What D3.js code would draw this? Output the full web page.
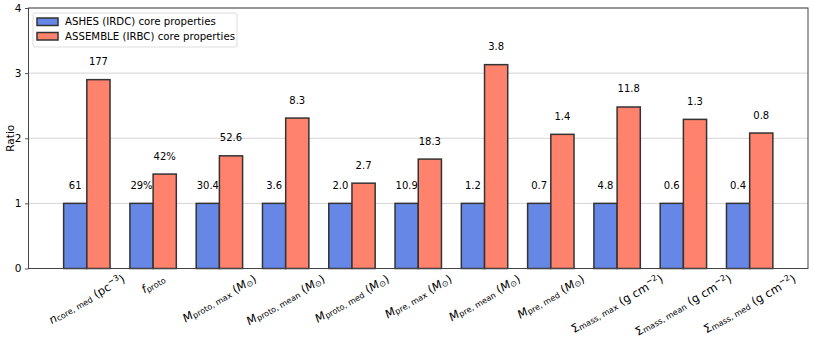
<!DOCTYPE html>
<html><head><meta charset="utf-8">
<script src="https://cdn.jsdelivr.net/npm/d3@7"></script>
<style>body{margin:0;background:#fff;} text{font-family:"DejaVu Sans",sans-serif;fill:#000;}</style>
</head><body>
<svg id="c" width="814" height="337"></svg>
<script>
// Data
const categories = ["n_core,med","f_proto","M_proto,max","M_proto,mean","M_proto,med","M_pre,max","M_pre,mean","M_pre,med","Sigma_mass,max","Sigma_mass,mean","Sigma_mass,med"];
const ashesRatio = [1,1,1,1,1,1,1,1,1,1,1];
const assembleRatio = [2.90,1.45,1.73,2.31,1.31,1.68,3.13,2.06,2.48,2.29,2.08];
const ashesLabels = ["61","29%","30.4","3.6","2.0","10.9","1.2","0.7","4.8","0.6","0.4"];
const assembleLabels = ["177","42%","52.6","8.3","2.7","18.3","3.8","1.4","11.8","1.3","0.8"];
const yTicks = [0,1,2,3,4];
const seriesNames = ["ASHES (IRDC) core properties","ASSEMBLE (IRBC) core properties"];
const tickLabelParts = [
  {m:"n",it:true,sub:"core, med",unit:[["(pc",""],["−3","sup"],[")",""]]},
  {m:"f",it:true,sub:"proto",unit:[]},
  {m:"M",it:true,sub:"proto, max",unit:[["(",""],["M","it"],["⊙","sub"],[")",""]]},
  {m:"M",it:true,sub:"proto, mean",unit:[["(",""],["M","it"],["⊙","sub"],[")",""]]},
  {m:"M",it:true,sub:"proto, med",unit:[["(",""],["M","it"],["⊙","sub"],[")",""]]},
  {m:"M",it:true,sub:"pre, max",unit:[["(",""],["M","it"],["⊙","sub"],[")",""]]},
  {m:"M",it:true,sub:"pre, mean",unit:[["(",""],["M","it"],["⊙","sub"],[")",""]]},
  {m:"M",it:true,sub:"pre, med",unit:[["(",""],["M","it"],["⊙","sub"],[")",""]]},
  {m:"Σ",it:false,sub:"mass, max",unit:[["(g cm",""],["−2","sup"],[")",""]]},
  {m:"Σ",it:false,sub:"mass, mean",unit:[["(g cm",""],["−2","sup"],[")",""]]},
  {m:"Σ",it:false,sub:"mass, med",unit:[["(g cm",""],["−2","sup"],[")",""]]}
];

const colors = ["rgb(103,135,231)","rgb(255,130,108)"];
const edge = "#333";
const L=28.5, R=808, T=8, B=268.5;
const svg = d3.select("#c");
const barW = 0.35;
const x = d3.scaleLinear().domain([-0.88, 10.88]).range([L, R]);
const y = d3.scaleLinear().domain([0,4]).range([B, T]);

svg.append("g").selectAll("line").data(yTicks).join("line")
  .attr("x1",L).attr("x2",R).attr("y1",d=>y(d)).attr("y2",d=>y(d))
  .attr("stroke","#d4d4d4").attr("stroke-width",1);

const yAxis = d3.axisLeft(y).tickValues(yTicks).tickFormat(d3.format("d")).tickSize(3.5).tickPadding(3.5);
const ga = svg.append("g").attr("transform",`translate(${L},0)`).call(yAxis);
ga.select(".domain").remove();
ga.selectAll("line").attr("stroke","#555");
ga.selectAll("text").style("font-size","10.5px").style("font-family","DejaVu Sans");

svg.append("text").attr("transform",`translate(14,${(T+B)/2}) rotate(-90)`)
  .attr("text-anchor","middle").style("font-size","10.5px").text("Ratio");

const idx = d3.range(categories.length);
const series = [ashesRatio, assembleRatio];
const labels = [ashesLabels, assembleLabels];
series.forEach((vals,s)=>{
  const off = s===0 ? -barW/2 : barW/2;
  svg.append("g").selectAll("rect").data(idx).join("rect")
    .attr("x",i=>x(i+off-barW/2)).attr("width",i=>x(i+off+barW/2)-x(i+off-barW/2))
    .attr("y",i=>y(vals[i])).attr("height",i=>y(0)-y(vals[i]))
    .attr("fill",colors[s]).attr("stroke",edge).attr("stroke-width",1.5);
  svg.append("g").selectAll("text").data(idx).join("text")
    .attr("x",i=>x(i+off)).attr("y",i=>y(vals[i]+0.2)-1.5)
    .attr("text-anchor","middle").style("font-size","10px")
    .text(i=>labels[s][i]);
});

svg.append("rect").attr("x",L).attr("y",T).attr("width",R-L).attr("height",B-T)
  .attr("fill","none").attr("stroke","#444").attr("stroke-width",1);

const fs = 11.5;
idx.forEach(i=>{
  const p = tickLabelParts[i];
  const g = svg.append("g");
  const t = g.append("text").style("font-size",fs+"px").attr("text-anchor","middle").attr("dominant-baseline","central");
  t.append("tspan").style("font-style",p.it?"italic":"normal").text(p.m);
  t.append("tspan").attr("baseline-shift","-25%").style("font-size",(fs*0.7)+"px").text(p.sub);
  if(p.unit.length){
    t.append("tspan").attr("baseline-shift","0").text(" ");
    p.unit.forEach(u=>{
      const ts = t.append("tspan");
      if(u[1]==="sup"){ts.attr("baseline-shift","40%").style("font-size",(fs*0.7)+"px");}
      else if(u[1]==="sub"){ts.attr("baseline-shift","-25%").style("font-size",(fs*0.7)+"px");}
      else if(u[1]==="it"){ts.style("font-style","italic");}
      ts.text(u[0]);
    });
  }
  const w = t.node().getComputedTextLength();
  const h = fs*1.15;
  const a = 30*Math.PI/180;
  const cy = 272 + (w/2)*Math.sin(a) + (h/2)*Math.cos(a);
  g.attr("transform",`translate(${x(i)},${cy}) rotate(-30)`);
});

const lg = svg.append("g");
lg.append("rect").attr("x",33).attr("y",13).attr("width",204).attr("height",34).attr("rx",2)
  .attr("fill","#fff").attr("fill-opacity",0.8).attr("stroke","#ddd");
seriesNames.forEach((n,s)=>{
  const yy = 21.5 + s*14.5;
  lg.append("rect").attr("x",37).attr("y",yy-3.5).attr("width",21).attr("height",7.5)
    .attr("fill",colors[s]).attr("stroke",edge).attr("stroke-width",1.5);
  lg.append("text").attr("x",65).attr("y",yy).attr("dominant-baseline","central")
    .style("font-size","10.2px").text(n);
});
</script>
</body></html>
